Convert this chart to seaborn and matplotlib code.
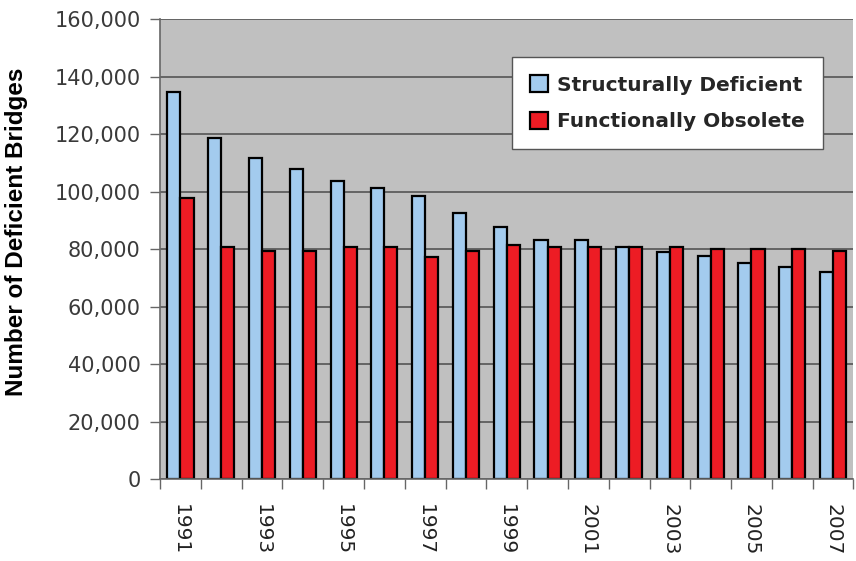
import pandas as pd
import matplotlib.pyplot as plt
import seaborn as sns
from matplotlib.ticker import FuncFormatter, FixedLocator

years = list(range(1991, 2008))
structurally_deficient = [134500, 118600, 111700, 107800, 103700, 101200, 98400, 92500, 87800,
                          83100, 83100, 80700, 79100, 77600, 75200, 73700, 72000]
functionally_obsolete = [97700, 80600, 79300, 79300, 80800, 80800, 77200, 79300, 81500,
                         80700, 80700, 80700, 80800, 80100, 80100, 80100, 79400]
series_names = ['Structurally Deficient', 'Functionally Obsolete']

df = pd.DataFrame({
    'Year': [str(y) for y in years] * 2,
    'Bridges': structurally_deficient + functionally_obsolete,
    'Type': [series_names[0]] * len(years) + [series_names[1]] * len(years),
})

sns.set_theme(style='white')
plt.rcParams['font.family'] = ['DejaVu Sans']

fig = plt.figure(figsize=(8.56, 5.61), dpi=100)
ax = fig.add_axes([0.187, 0.146, 0.810, 0.820])
ax.set_facecolor('#C0C0C0')

sns.barplot(data=df, x='Year', y='Bridges', hue='Type',
            palette=['#A3CBEE', '#ED1C24'], width=0.64,
            edgecolor='black', linewidth=1.6, saturation=1, ax=ax)

ax.set_ylim(0, 160000)
ax.set_xlim(-0.5, len(years) - 0.5)
ax.set_yticks(range(0, 160001, 20000))
ax.yaxis.set_major_formatter(FuncFormatter(lambda v, p: format(int(v), ',')))
ax.grid(axis='y', color='#555555', linewidth=1.2)
ax.set_axisbelow(True)

# labels on odd years, tick marks between groups
ax.set_xticks(range(0, len(years), 2))
ax.set_xticklabels([str(y) for y in years[::2]], rotation=270, fontsize=14.5, color='#222222')
ax.xaxis.set_minor_locator(FixedLocator([i - 0.5 for i in range(len(years) + 1)]))
ax.tick_params(axis='x', which='major', length=0, pad=18)
ax.tick_params(axis='x', which='minor', length=7, width=1, color='#666666', bottom=True)
ax.tick_params(axis='y', length=7, width=1, color='#666666', left=True, labelsize=15,
               labelcolor='#3a3a3a', pad=7)

ax.set_xlabel('')
ax.set_ylabel('Number of Deficient Bridges', fontsize=17.5, fontweight='bold',
              family='Liberation Sans', color='black')
ax.yaxis.set_label_coords(-0.19, 0.537)

for side in ['top', 'right']:
    ax.spines[side].set_visible(False)
for side in ['left', 'bottom']:
    ax.spines[side].set_color('#666666')
    ax.spines[side].set_linewidth(1.2)

leg = ax.legend(loc='upper left', bbox_to_anchor=(0.507, 0.917), frameon=True,
                fancybox=False, edgecolor='#555555', framealpha=1, borderaxespad=0,
                prop={'weight': 'bold', 'size': 14.5, 'family': 'DejaVu Sans'},
                handlelength=0.9, handleheight=0.9, labelspacing=0.85,
                borderpad=0.9, handletextpad=0.45, title=None)
leg.get_frame().set_linewidth(1.0)

plt.savefig('out.png', dpi=100)
plt.close()
